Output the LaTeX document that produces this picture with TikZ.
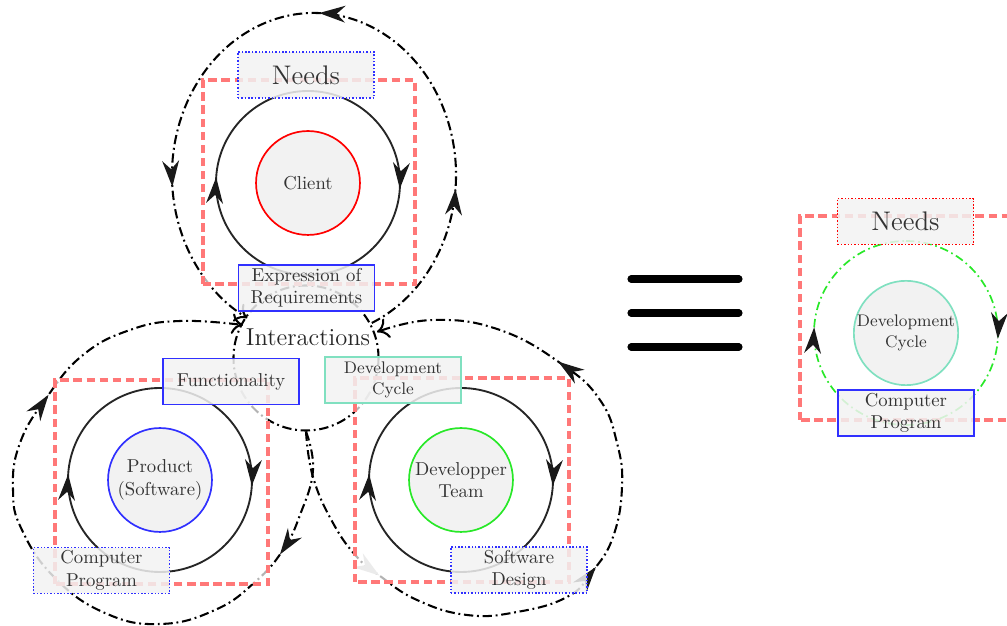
\documentclass[tikz,border=0pt]{standalone}
\usetikzlibrary{arrows.meta}
\usetikzlibrary{decorations.markings}
\usepackage{xcolor}

\definecolor{framered}{RGB}{255,120,120}
\definecolor{boxblue}{RGB}{48,48,255}
\definecolor{teamgreen}{RGB}{40,232,40}
\definecolor{cycleteal}{RGB}{128,224,192}
\definecolor{boxgray}{RGB}{242,242,242}

\tikzset{
  actor/.style={circle, draw, line width=0.9pt, fill=boxgray, minimum size=55.6pt,
    inner sep=0pt, align=center, text=black!80},
  tagbox/.style={rectangle, draw=boxblue, line width=0.8pt, fill=boxgray, fill opacity=0.85,
    text opacity=1, minimum width=72.8pt, minimum height=24.6pt, inner sep=1pt,
    align=center, text=black!80},
  dottagbox/.style={tagbox, draw=boxblue, line width=0.8pt, dash pattern=on 0.8pt off 1pt},
  redframe/.style={draw=framered, line width=1.7pt, dash pattern=on 4.5pt off 2.5pt,
    fill=white, fill opacity=0.7},
  loopline/.style={draw=black!85, line width=1pt},
  bigloop/.style={draw=black, line width=1.1pt, dash pattern=on 5pt off 2pt on 1pt off 2pt},
  arrowat/.style={postaction={decorate, decoration={markings,
    mark=at position #1 with {\arrow[black!90]{Stealth[length=14pt,width=9pt]}}}}},
  fadedarrowat/.style={postaction={decorate, decoration={markings,
    mark=at position #1 with {\arrow[black!25]{Stealth[length=14pt,width=9pt]}}}}},
  endtip/.style={-{To[length=6pt,width=11pt]}}
}

\begin{document}
\begin{tikzpicture}[x=0.535pt, y=0.535pt]
\useasboundingbox (0,0) rectangle (1007,626);
\clip (0,0) rectangle (1007,626);

% centres of the four groups
\coordinate (clientc) at (308,443);
\coordinate (productc) at (160,146);
\coordinate (teamc) at (461,146);
\coordinate (cyclec) at (906,293);

% interactions
\node [circle, bigloop, minimum size=77.6pt, inner sep=0pt] (inter) at (306,268) {};

\draw [bigloop, arrowat=0.2, arrowat=0.5, arrowat=0.81, endtip]
  (314,451) ++(-66:142 and 162) arc[start angle=-66, end angle=242, x radius=142, y radius=162];
\draw [bigloop, arrowat=0.16, arrowat=0.73, endtip] plot[smooth, tension=0.75] coordinates {
  (inter.south) (313,156) (300,111) (283,76) (255,44) (215,16) (160,2) (105,13) (55,48)
  (22,96) (13,136) (20,183) (47,229) (83,271) (130,296) (180,305) (243,301)};
\draw [bigloop, fadedarrowat=0.2, arrowat=0.49, arrowat=0.77, endtip] plot[smooth, tension=0.75] coordinates {
  (inter.south) (313,149) (333,103) (357,69) (380,50) (417,26) (467,11) (517,14) (567,29)
  (592,54) (613,89) (622,139) (617,183) (600,226) (563,261) (500,296) (433,306) (377,294)};

% frames
\draw [redframe] (clientc) ++(-105,-101) rectangle ++(212,204);
\draw [redframe] (productc) ++(-105,-104) rectangle ++(213,204);
\draw [redframe] (teamc) ++(-106,-102) rectangle ++(214,204);
\draw [redframe] (cyclec) ++(-106,-87) rectangle ++(213,204);

% inner cycles
\draw [loopline, arrowat=0.26, arrowat=0.76] (clientc) ++(0,92) arc[start angle=90, end angle=-270, radius=92];
\draw [loopline, arrowat=0.26, arrowat=0.76] (productc) ++(0,92) arc[start angle=90, end angle=-270, radius=92];
\draw [loopline, arrowat=0.26, arrowat=0.76] (teamc) ++(0,92) arc[start angle=90, end angle=-270, radius=92];
\draw [draw=teamgreen, line width=0.9pt, dash pattern=on 4.5pt off 2pt on 0.9pt off 2pt,
  arrowat=0.26, arrowat=0.76] (cyclec) ++(0,92) arc[start angle=90, end angle=-270, radius=92];

\node [actor, draw=red] (client) at (clientc) {Client};
\node [actor, draw=boxblue] (product) at (productc) {Product\\(Software)};
\node [actor, draw=teamgreen] (team) at (teamc) {Developper\\Team};
\node [actor, draw=cycleteal, font=\small] (cycle) at (cyclec) {Development\\Cycle};

\node [dottagbox, font=\Large] (needs) at (306,551) {Needs};
\node [tagbox] (expr) at (306.5,338) {Expression of\\Requirements};
\node [tagbox] (func) at (231,244.5) {Functionality};
\node [dottagbox] (prog) at (101.5,55.5) {Computer\\Program};
\node [tagbox, draw=cycleteal, font=\small] (devbox) at (393,246) {Development\\Cycle};
\node [dottagbox] (design) at (519,56) {Software\\Design};
\node [dottagbox, draw=red, font=\Large] (needsR) at (905.5,404.5) {Needs};
\node [tagbox] (progR) at (906,213) {Computer\\Program};

\node [font=\fontsize{13.1pt}{15pt}\selectfont, text=black!85] (interlabel) at (308,289) {Interactions};

% equals
\foreach \y in {279,313,347}
  \draw [line width=3.8pt, line cap=round] (631,\y) -- (739,\y);
\end{tikzpicture}
\end{document}
